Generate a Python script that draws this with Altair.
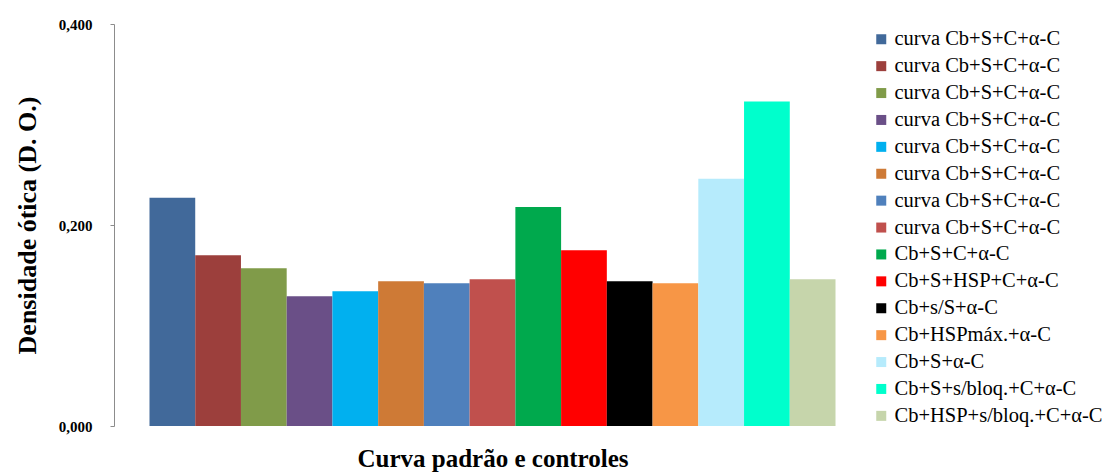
import json
import altair as alt
import pandas as pd

# Optical density of the standard curve and the control wells
labels = [
    "curva Cb+S+C+α-C",
    "curva Cb+S+C+α-C",
    "curva Cb+S+C+α-C",
    "curva Cb+S+C+α-C",
    "curva Cb+S+C+α-C",
    "curva Cb+S+C+α-C",
    "curva Cb+S+C+α-C",
    "curva Cb+S+C+α-C",
    "Cb+S+C+α-C",
    "Cb+S+HSP+C+α-C",
    "Cb+s/S+α-C",
    "Cb+HSPmáx.+α-C",
    "Cb+S+α-C",
    "Cb+S+s/bloq.+C+α-C",
    "Cb+HSP+s/bloq.+C+α-C",
]
values = [0.227, 0.170, 0.157, 0.129, 0.134, 0.144, 0.142, 0.146,
          0.218, 0.175, 0.144, 0.142, 0.246, 0.323, 0.146]
colors = ["#41699A", "#9C3F3C", "#809B49", "#6A4F87", "#01B0EF", "#CE7A36",
          "#4F80BC", "#C0504D", "#00A94D", "#FF0000", "#000000", "#F79646",
          "#B6EBFC", "#00FFCC", "#C6D5AB"]
y_ticks = [0.0, 0.2, 0.4]

ids = list(range(len(labels)))
df = pd.DataFrame({"idx": ids, "label": labels, "valor": values})

FONT = "Liberation Serif"
label_lookup = json.dumps(labels, ensure_ascii=False)

chart = alt.Chart(df).mark_bar().encode(
    x=alt.X(
        "idx:O",
        sort=ids,
        scale=alt.Scale(paddingInner=0, paddingOuter=0.776),
        axis=alt.Axis(
            title="Curva padrão e controles",
            labels=False, ticks=False, domain=False,
            titleFont=FONT, titleFontSize=25, titleFontWeight="bold",
            titleColor="black", titleBaseline="alphabetic",
            titleX=378.5, titleY=40,
        ),
    ),
    y=alt.Y(
        "valor:Q",
        scale=alt.Scale(domain=[0, 0.4], nice=False, zero=True),
        axis=alt.Axis(
            title="Densidade ótica (D. O.)",
            values=y_ticks,
            labelExpr="replace(format(datum.value, '.3f'), '.', ',')",
            grid=False,
            domainColor="#8c8c8c", tickColor="#8c8c8c",
            tickSize=4, labelPadding=18,
            labelFont=FONT, labelFontSize=15, labelFontWeight="bold",
            labelColor="black",
            titleFont=FONT, titleFontSize=26, titleFontWeight="bold",
            titleColor="black", titleAngle=270, titleAlign="center",
            titleBaseline="middle", titleX=-87, titleY=201,
        ),
    ),
    color=alt.Color(
        "idx:N",
        scale=alt.Scale(domain=ids, range=colors),
        legend=alt.Legend(
            title=None,
            orient="none", legendX=757, legendY=5,
            symbolType="square", symbolSize=100, symbolStrokeWidth=0,
            labelExpr=f"{label_lookup}[datum.value]",
            labelFont=FONT, labelFontSize=20.5, labelColor="black",
            labelLimit=0, labelOffset=3, rowPadding=5.9, padding=0,
        ),
    ),
    tooltip=["label:N", "valor:Q"],
).properties(
    width=757,
    height=402,
    autosize=alt.AutoSizeParams(type="none"),
    padding={"left": 114, "top": 24, "right": 244, "bottom": 47},
    background="white",
).configure_view(stroke=None)

chart.save("out.html", embed_options={"renderer": "svg", "actions": False})
